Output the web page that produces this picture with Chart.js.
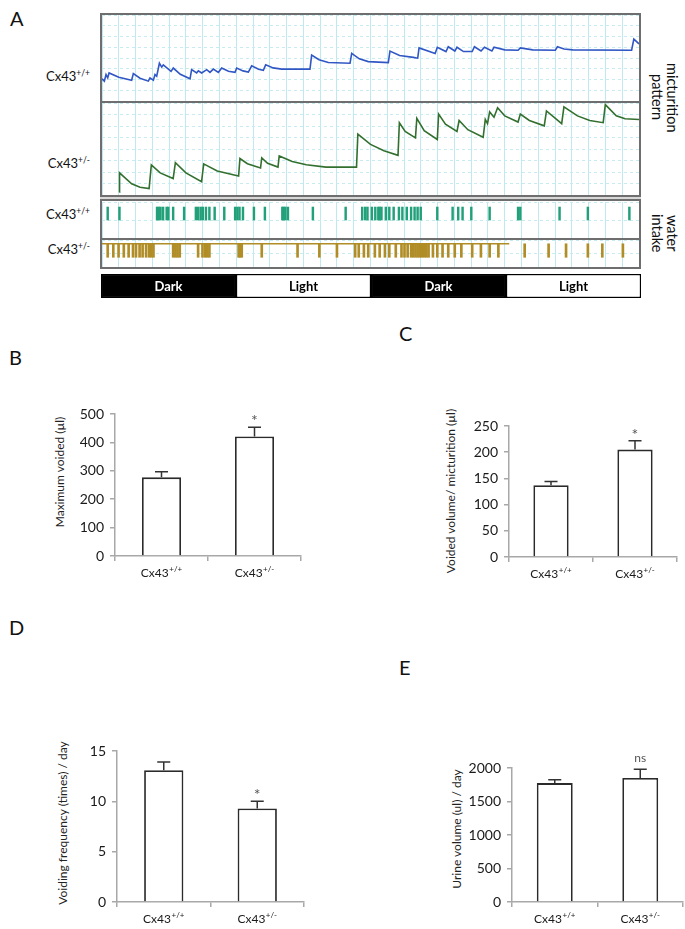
<!DOCTYPE html>
<html><head><meta charset="utf-8">
<script src="https://cdn.jsdelivr.net/npm/chart.js@4/dist/chart.umd.min.js"></script>
<style>
html,body{margin:0;padding:0;background:#fff;}
body{width:685px;height:929px;position:relative;overflow:hidden;font-family:Lato,"Open Sans",sans-serif;color:#111;}
canvas{position:absolute;}
.ln{position:absolute;background:#6e6e6e;}
.plabel{position:absolute;font-size:20px;line-height:20px;color:#111;}
.cx{position:absolute;font-size:13px;line-height:14px;white-space:nowrap;text-align:right;color:#111;}
.cx sup{font-size:8.5px;vertical-align:5px;line-height:0;}
.vt{position:absolute;writing-mode:vertical-rl;font-size:14.5px;line-height:15px;text-align:center;color:#111;white-space:nowrap;}
.yt{position:absolute;white-space:nowrap;font-size:12px;line-height:12px;color:#222;transform:translate(-50%,-50%) rotate(-90deg);}
</style></head>
<body>
<div class="plabel" style="left:10px;top:8px">A</div>
<div class="plabel" style="left:9px;top:347px">B</div>
<div class="plabel" style="left:399px;top:323px">C</div>
<div class="plabel" style="left:9px;top:617px">D</div>
<div class="plabel" style="left:399px;top:657px">E</div>

<div class="cx" style="right:595px;top:69px">Cx43<sup>+/+</sup></div>
<div class="cx" style="right:595px;top:156px">Cx43<sup>+/-</sup></div>
<div class="cx" style="right:595px;top:207px">Cx43<sup>+/+</sup></div>
<div class="cx" style="right:595px;top:242px">Cx43<sup>+/-</sup></div>

<div class="vt" style="left:650px;top:50px;height:95px;">micturition<br>pattern</div>
<div class="vt" style="left:650px;top:200px;height:66px;">water<br>intake</div>

<div class="yt" style="left:60px;top:472px">Maximum voided (µl)</div>
<div class="yt" style="left:451px;top:491px">Voided volume/ micturition (µl)</div>
<div class="yt" style="left:63px;top:823px">Voiding frequency (times) / day</div>
<div class="yt" style="left:457px;top:829px">Urine volume (ul) / day</div>

<script>
// ---------- DATA ----------
// Panel A: time in hours (0-48), trace level in % of the sub-panel height
const traceWTHours  = [0,0.21,0.36,0.51,0.63,1.5,2.65,2.8,3.4,4.14,4.29,4.59,4.74,4.89,5.13,5.34,5.48,6.17,6.37,7.0,7.87,8.01,8.46,8.61,8.91,9.36,9.65,9.95,10.4,10.7,11.3,11.89,12.04,12.6,13.08,13.38,14.0,14.42,14.63,15.3,16.06,18.59,18.74,19.4,20.23,22.17,22.32,23.0,23.8,25.59,25.74,26.6,27.83,28.22,28.34,29.78,29.97,30.75,30.95,31.54,31.73,32.31,33.09,33.29,33.88,34.19,34.85,35.04,36.0,37.19,37.39,38.5,40.52,40.71,41.3,42.08,47.34,47.54,48];
const traceWTValues = [25.8,23.1,30.7,26.9,32.6,27.5,24.2,31.8,26.5,23.1,26.9,24.2,30.7,28.8,43.9,39.4,42,34.5,38.3,31,25.8,36.4,32.6,35.2,32.6,36.4,33.3,37.1,33.3,38.3,34.5,33.3,38.3,35,33.7,40.9,37,35.6,42,38.5,37.1,37.1,53.4,48,44.7,43.9,55.3,49,45.8,44.7,58,53,50.7,49.8,61.7,55.3,62.5,57.5,63.1,58.1,62.5,57.5,57.5,63.1,58.1,62.5,58.1,62.5,59.5,59,61.7,59.5,59,63.1,60.5,59.4,59,72,66.4];
const traceHetHours  = [1.56,1.57,2.65,3.4,4.21,4.41,5.2,6.36,6.56,7.5,8.9,9.09,10.3,12.21,12.33,13.0,14.17,14.28,14.8,15.73,15.84,17.0,18.26,20.02,22.75,22.87,24.0,25.2,26.46,26.58,27.1,28.02,28.14,28.8,29.97,30.09,30.7,31.73,31.92,32.7,34.07,34.26,34.46,34.65,35.04,35.36,36.0,37.19,37.39,38.2,39.53,39.73,41.09,41.29,42.5,43.6,44.8,44.99,45.97,46.75,48];
const traceHetValues = [3,24.1,12.1,8.5,6.9,32.8,24,17.9,35.2,24,14.5,33.8,26,20.7,39.7,34,29.3,40.3,34.5,30.3,42.4,36.5,32.8,30.3,30.3,66.2,55,48,43.1,78.6,69,62.1,83.4,70,60.3,87.9,77,69,81,71,62.8,82.1,77.6,90.3,84.5,94.8,86,79.3,87.9,81,75.2,91.4,77.6,95.9,86,81,78.6,98.3,86.2,82.8,82.1];
const drinkWTHours  = [0.51,1.56,4.92,5.07,5.23,5.46,5.78,5.93,6.36,7.34,8.39,8.59,8.82,9.01,9.29,9.6,10.07,10.93,11.9,12.1,12.29,12.6,13.58,14.56,16.12,16.23,16.39,16.62,18.85,21.78,23.26,23.53,23.73,24.12,24.43,24.7,24.82,24.98,25.37,25.68,26.07,26.54,26.85,27.24,27.63,27.94,28.21,28.49,29.97,31.34,31.84,32.23,33.01,34.65,37.19,37.39,40.9,43.43,47.14];
const drinkHetHours = [0.51,1.01,1.48,1.95,2.38,2.77,3.04,3.36,3.63,3.94,4.21,4.41,4.6,6.36,6.56,6.75,6.95,8.59,8.98,9.21,9.4,9.6,12.21,12.33,12.49,14.28,17.48,19.43,21.0,22.63,22.95,23.41,23.8,24.39,24.82,25.29,25.68,26.26,26.77,27.04,27.32,27.63,27.82,28.02,28.21,28.41,28.6,28.8,28.99,29.19,29.58,29.97,30.44,30.95,31.53,32.12,33.09,33.87,34.65,35.43,37.78,39.92,41.48,43.43,44.72,46.56];
const drinkHetLineHours = [0, 36.4];
const phaseLabels = ['Dark','Light','Dark','Light'];
const phaseHours  = [12,12,12,12];

// Panels B-E
const genotypes = ['Cx43+/+','Cx43+/-'];
const maxVoided = [277, 421];   const maxVoidedErr = [20, 32];  const maxVoidedSig = ['', '*'];
const volPerMict = [137, 205];  const volPerMictErr = [7, 17];  const volPerMictSig = ['', '*'];
const voidFreq = [13.1, 9.3];   const voidFreqErr = [0.8, 0.7]; const voidFreqSig = ['', '*'];
const urineVol = [1775, 1850];  const urineVolErr = [50, 130];  const urineVolSig = ['', 'ns'];
const ticksB = [0,100,200,300,400,500];
const ticksC = [0,50,100,150,200,250];
const ticksD = [0,5,10,15];
const ticksE = [0,500,1000,1500,2000];

// ---------- RENDER ----------
Chart.defaults.font.family = 'Lato, "Open Sans", sans-serif';
Chart.defaults.animation = false;

function mk(left, top, w, h) {
  const c = document.createElement('canvas');
  c.width = w; c.height = h;
  c.style.left = left + 'px'; c.style.top = top + 'px';
  c.style.width = w + 'px'; c.style.height = h + 'px';
  document.body.appendChild(c);
  return c;
}
function line(l, t, w, h, col) {
  const d = document.createElement('div');
  d.className = 'ln';
  d.style.left = l + 'px'; d.style.top = t + 'px'; d.style.width = w + 'px'; d.style.height = h + 'px';
  if (col) d.style.background = col;
  document.body.appendChild(d);
}

function gridOpts(ymin, ymax, ystep) {
  return {
    responsive: false, maintainAspectRatio: false, animation: false,
    layout: { padding: 0, autoPadding: false },
    plugins: { legend: { display: false }, tooltip: { enabled: false } },
    scales: {
      x: { type: 'linear', min: 0, max: 48, offset: false,
           ticks: { display: false, stepSize: 1.5 },
           grid: { color: '#bfe9ef', lineWidth: 1, drawTicks: false, offset: false },
           border: { display: false },
           afterFit(s) { s.height = 0; } },
      y: { type: 'linear', min: ymin, max: ymax,
           ticks: { display: false, stepSize: ystep },
           grid: { color: '#c6ecf1', lineWidth: 1, drawTicks: false },
           border: { display: false, dash: [3, 3] },
           afterFit(s) { s.width = 0; } }
    }
  };
}

function traceChart(top, h, hours, values, color) {
  new Chart(mk(102, top, 537, h), {
    type: 'line',
    data: { datasets: [{ data: hours.map((x, i) => ({ x: x, y: values[i] })),
      borderColor: color, borderWidth: 1.6, pointRadius: 0, tension: 0, fill: false }] },
    options: gridOpts(0, 100, 12.5)
  });
}
traceChart(15, 86, traceWTHours, traceWTValues, '#3157c4');
traceChart(103, 92, traceHetHours, traceHetValues, '#33702f');

function drinkChart(top, h, hours, color, range, extraLine, thick) {
  const ds = [{ type: 'bar', data: hours.map(x => ({ x: x, y: range })),
    backgroundColor: color, borderWidth: 0, barThickness: thick, grouped: false }];
  if (extraLine) ds.push({ type: 'line', data: extraLine.map(x => ({ x: x, y: range[1] })),
    borderColor: color, borderWidth: 1.5, pointRadius: 0 });
  new Chart(mk(102, top, 537, h), { type: 'bar', data: { datasets: ds }, options: gridOpts(0, 1, 0.5) });
}
drinkChart(202, 36, drinkWTHours, '#22a079', [0.5, 0.86], null, 1.8);
drinkChart(240, 27, drinkHetHours, '#b08d26', [0.36, 0.86], drinkHetLineHours, 2);

// Dark / Light band
const phaseText = {
  id: 'phaseText',
  afterDatasetsDraw(chart) {
    const ctx = chart.ctx;
    chart.data.datasets.forEach((ds, i) => {
      const p = chart.getDatasetMeta(i).data[0].getCenterPoint();
      ctx.save();
      ctx.font = 'bold 13px Lato, sans-serif';
      ctx.fillStyle = ds.label === 'Dark' ? '#fff' : '#000';
      ctx.textAlign = 'center'; ctx.textBaseline = 'middle';
      ctx.fillText(ds.label, p.x, p.y + 1);
      ctx.restore();
    });
  }
};
new Chart(mk(101, 274, 540, 24), {
  type: 'bar',
  data: { labels: [''], datasets: phaseLabels.map((l, i) => ({ label: l, data: [phaseHours[i]],
    backgroundColor: l === 'Dark' ? '#000' : '#fff', borderColor: '#000', borderWidth: 1.5,
    borderSkipped: false, barPercentage: 1, categoryPercentage: 1 })) },
  options: { indexAxis: 'y', responsive: false, animation: false,
    layout: { padding: 0, autoPadding: false },
    plugins: { legend: { display: false }, tooltip: { enabled: false } },
    scales: { x: { stacked: true, min: 0, max: 48, display: false },
              y: { stacked: true, display: false } } },
  plugins: [phaseText]
});

// frame lines of panel A
line(100, 13, 541, 2);
line(100, 267, 541, 2);
line(100, 13, 2, 256);
line(639, 13, 2, 256);
line(100, 101, 541, 2);
line(100, 195, 541, 2);
line(100, 197, 541, 2, '#d8d8d8');
line(100, 199, 541, 2);
line(100, 238, 541, 2);

// ---------- bar panels ----------
const errPlugin = {
  id: 'errPlugin',
  afterDatasetsDraw(chart) {
    const { ctx, scales: { y } } = chart;
    const ds = chart.data.datasets[0];
    chart.getDatasetMeta(0).data.forEach((bar, i) => {
      const v = ds.data[i], e = ds.errors[i];
      const yb = y.getPixelForValue(v), yt = y.getPixelForValue(v + e);
      ctx.save();
      ctx.strokeStyle = '#333'; ctx.lineWidth = 1.5;
      ctx.beginPath();
      ctx.moveTo(bar.x, yb); ctx.lineTo(bar.x, yt);
      ctx.moveTo(bar.x - 6.5, yt); ctx.lineTo(bar.x + 6.5, yt);
      ctx.stroke();
      const s = ds.sigs[i];
      if (s) {
        ctx.fillStyle = '#555'; ctx.textAlign = 'center'; ctx.textBaseline = 'alphabetic';
        if (s === '*') { ctx.font = '16px Lato, sans-serif'; ctx.fillText(s, bar.x, yt - 1); }
        else { ctx.font = '12px Lato, sans-serif'; ctx.fillText(s, bar.x, yt - 7); }
      }
      ctx.restore();
    });
  }
};
const catPlugin = {
  id: 'catPlugin',
  afterDraw(chart) {
    const { ctx, scales: { x }, chartArea } = chart;
    chart.data.labels.forEach((lab, i) => {
      const base = lab.slice(0, 4), sup = lab.slice(4);
      ctx.save();
      ctx.font = '12px Lato, sans-serif'; const w1 = ctx.measureText(base).width;
      ctx.font = '8px Lato, sans-serif'; const w2 = ctx.measureText(sup).width;
      const cx = x.getPixelForValue(i), yb = chartArea.bottom + 21;
      const sx = cx - (w1 + w2 + 0.5) / 2;
      ctx.fillStyle = '#1a1a1a'; ctx.textAlign = 'left'; ctx.textBaseline = 'alphabetic';
      ctx.font = '12px Lato, sans-serif'; ctx.fillText(base, sx, yb);
      ctx.font = '8px Lato, sans-serif'; ctx.fillText(sup, sx + w1 + 0.5, yb - 5);
      ctx.restore();
    });
  }
};

function barPanel(L, T, R, B, ticks, vals, errs, sigs) {
  const padL = 55, padT = 35, padR = 4, padB = 40;
  const c = mk(L - padL, T - padT, (R - L) + padL + padR, (B - T) + padT + padB);
  new Chart(c, {
    type: 'bar',
    data: { labels: genotypes, datasets: [{ data: vals, errors: errs, sigs: sigs,
      backgroundColor: '#fff', borderColor: '#2a2a2a', borderWidth: 1.8,
      barPercentage: 0.42, categoryPercentage: 1 }] },
    options: {
      responsive: false, animation: false,
      layout: { padding: { left: 0, top: padT, right: padR, bottom: 0 }, autoPadding: false },
      plugins: { legend: { display: false }, tooltip: { enabled: false } },
      scales: {
        x: { type: 'category', offset: true,
             ticks: { display: false },
             grid: { offset: true, drawOnChartArea: false, drawTicks: true, tickLength: 5, color: '#a8a8a8', lineWidth: 1.5 },
             border: { color: '#a8a8a8', width: 1.5 },
             afterFit(s) { s.height = padB; } },
        y: { min: ticks[0], max: ticks[ticks.length - 1],
             afterBuildTicks(s) { s.ticks = ticks.map(v => ({ value: v })); },
             ticks: { color: '#1a1a1a', font: { size: 14 }, padding: 6, callback: v => String(v) },
             grid: { drawOnChartArea: false, drawTicks: true, tickLength: 5, color: '#a8a8a8', lineWidth: 1.5 },
             border: { color: '#a8a8a8', width: 1.5 },
             afterFit(s) { s.width = padL; } }
      }
    },
    plugins: [errPlugin, catPlugin]
  });
}
barPanel(115, 414, 301, 556, ticksB, maxVoided, maxVoidedErr, maxVoidedSig);
barPanel(509, 426, 677, 557, ticksC, volPerMict, volPerMictErr, volPerMictSig);
barPanel(117, 751, 304, 902, ticksD, voidFreq, voidFreqErr, voidFreqSig);
barPanel(512, 768, 683, 902, ticksE, urineVol, urineVolErr, urineVolSig);
</script>
</body></html>
